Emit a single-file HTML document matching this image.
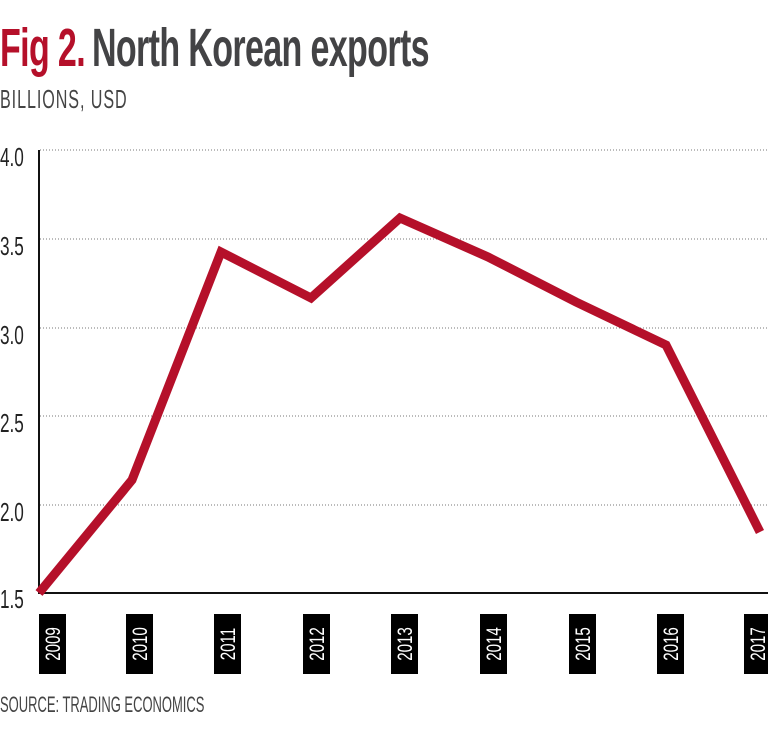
<!DOCTYPE html>
<html><head><style>
body{margin:0;background:#fff;width:768px;height:745px;overflow:hidden;font-family:"Liberation Sans",sans-serif}
</style></head><body>
<svg width="768" height="745" xmlns="http://www.w3.org/2000/svg" font-family="Liberation Sans, sans-serif">
<g transform="translate(0,66) scale(0.63,1)">
<text x="0" y="0" font-size="54" font-weight="bold" fill="#b5102a" letter-spacing="-1">Fig 2.</text>
<text x="146" y="0" font-size="54" font-weight="bold" fill="#434345" letter-spacing="-1">North Korean exports</text>
</g>
<text x="0" y="108" font-size="26" fill="#444" transform="scale(0.62,1)" letter-spacing="1.5">BILLIONS, USD</text>
<g stroke="#777" stroke-width="1" stroke-dasharray="1,2">
<line x1="40" y1="150" x2="768" y2="150"/><line x1="40" y1="239" x2="768" y2="239"/>
<line x1="40" y1="328" x2="768" y2="328"/><line x1="40" y1="416" x2="768" y2="416"/>
<line x1="40" y1="505" x2="768" y2="505"/>
</g>
<line x1="39" y1="150" x2="39" y2="594" stroke="#111" stroke-width="2"/>
<line x1="38" y1="593" x2="768" y2="593" stroke="#111" stroke-width="2"/>
<g font-size="26" fill="#222" transform="scale(0.66,1)">
<text x="0" y="166">4.0</text><text x="0" y="255">3.5</text><text x="0" y="344">3.0</text>
<text x="0" y="432">2.5</text><text x="0" y="521">2.0</text><text x="0" y="608">1.5</text>
</g>
<polyline points="39,593 132,480 221,252 311,298 400,218 488,257 576,302 666,345 760,532" fill="none" stroke="#b5102a" stroke-width="9" stroke-linejoin="miter"/>
<g>
<rect x="39" y="614" width="27" height="60" fill="#000"/>
<rect x="126" y="614" width="27" height="60" fill="#000"/>
<rect x="214" y="614" width="27" height="60" fill="#000"/>
<rect x="303" y="614" width="27" height="60" fill="#000"/>
<rect x="391" y="614" width="27" height="60" fill="#000"/>
<rect x="480" y="614" width="27" height="60" fill="#000"/>
<rect x="569" y="614" width="27" height="60" fill="#000"/>
<rect x="657" y="614" width="27" height="60" fill="#000"/>
<rect x="744" y="614" width="27" height="60" fill="#000"/>
</g>
<g font-size="21" fill="#fff" text-anchor="middle">
<text transform="translate(60,644) rotate(-90) scale(0.72,1)">2009</text>
<text transform="translate(147,644) rotate(-90) scale(0.72,1)">2010</text>
<text transform="translate(235,644) rotate(-90) scale(0.72,1)">2011</text>
<text transform="translate(324,644) rotate(-90) scale(0.72,1)">2012</text>
<text transform="translate(412,644) rotate(-90) scale(0.72,1)">2013</text>
<text transform="translate(501,644) rotate(-90) scale(0.72,1)">2014</text>
<text transform="translate(590,644) rotate(-90) scale(0.72,1)">2015</text>
<text transform="translate(678,644) rotate(-90) scale(0.72,1)">2016</text>
<text transform="translate(765,644) rotate(-90) scale(0.72,1)">2017</text>
</g>
<text x="0" y="712" font-size="22" fill="#444" transform="scale(0.59,1)">SOURCE: TRADING ECONOMICS</text>
</svg>
</body></html>
